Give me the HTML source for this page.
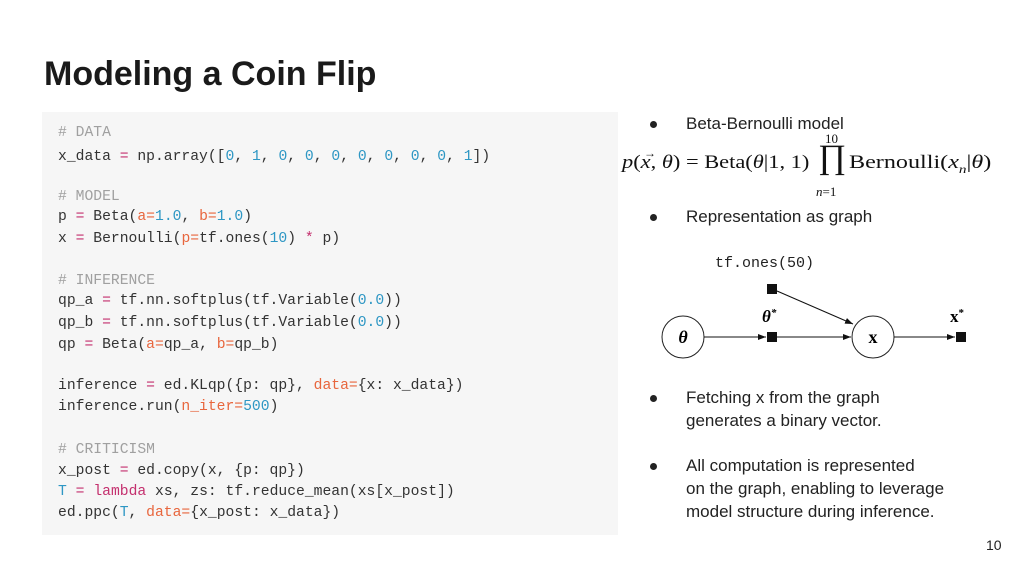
<!DOCTYPE html>
<html><head><meta charset="utf-8"><style>
body{margin:0;width:1024px;height:576px;background:#fff;position:relative;overflow:hidden;font-family:"Liberation Sans",sans-serif;color:#222}
.a{position:absolute;white-space:pre}
#code{position:absolute;left:42px;top:112px;width:576px;height:423px;background:#f6f6f6}
.c{position:absolute;left:16px;font-family:"Liberation Mono",monospace;font-size:14.7px;color:#333;white-space:pre;line-height:16px}
.cm{color:#a0a0a0}.n{color:#2e97c4}.k{color:#e8663d}.o{color:#c4306e}
.b{position:absolute;font-size:17px;color:#222;line-height:23px;white-space:pre}
.dot{position:absolute;width:7px;height:7px;border-radius:50%;background:#222}
.m{position:absolute;font-family:"Liberation Serif",serif;font-size:19px;white-space:pre;color:#111;transform-origin:0 0}
</style></head><body>
<div class="a" style="left:44px;top:55px;font-size:34px;font-weight:bold;color:#1a1a1a">Modeling a Coin Flip</div>
<div id="code">
<div class="c cm" style="top:13px"># DATA</div>
<div class="c" style="top:37px">x_data <span class="o">=</span> np.array([<span class="n">0</span>, <span class="n">1</span>, <span class="n">0</span>, <span class="n">0</span>, <span class="n">0</span>, <span class="n">0</span>, <span class="n">0</span>, <span class="n">0</span>, <span class="n">0</span>, <span class="n">1</span>])</div>
<div class="c cm" style="top:77px"># MODEL</div>
<div class="c" style="top:97px">p <span class="o">=</span> Beta(<span class="k">a=</span><span class="n">1.0</span>, <span class="k">b=</span><span class="n">1.0</span>)</div>
<div class="c" style="top:119px">x <span class="o">=</span> Bernoulli(<span class="k">p=</span>tf.ones(<span class="n">10</span>) <span class="o">*</span> p)</div>
<div class="c cm" style="top:161px"># INFERENCE</div>
<div class="c" style="top:181px">qp_a <span class="o">=</span> tf.nn.softplus(tf.Variable(<span class="n">0.0</span>))</div>
<div class="c" style="top:203px">qp_b <span class="o">=</span> tf.nn.softplus(tf.Variable(<span class="n">0.0</span>))</div>
<div class="c" style="top:225px">qp <span class="o">=</span> Beta(<span class="k">a=</span>qp_a, <span class="k">b=</span>qp_b)</div>
<div class="c" style="top:266px">inference <span class="o">=</span> ed.KLqp({p: qp}, <span class="k">data=</span>{x: x_data})</div>
<div class="c" style="top:287px">inference.run(<span class="k">n_iter=</span><span class="n">500</span>)</div>
<div class="c cm" style="top:330px"># CRITICISM</div>
<div class="c" style="top:351px">x_post <span class="o">=</span> ed.copy(x, {p: qp})</div>
<div class="c" style="top:372px"><span class="n">T</span> <span class="o">=</span> <span class="o">lambda</span> xs, zs: tf.reduce_mean(xs[x_post])</div>
<div class="c" style="top:393px">ed.ppc(<span class="n">T</span>, <span class="k">data=</span>{x_post: x_data})</div>
</div>
<div class="dot" style="left:650px;top:121px"></div><div class="b" style="left:686px;top:112px">Beta-Bernoulli model</div>
<div class="m" style="left:622px;top:152px;transform:scaleX(1.18)"><i>p</i>(<i>x</i>, <i>θ</i>) = Beta(<i>θ</i>|1, 1)</div>
<div class="m" style="left:644px;top:146px;font-size:12px">→</div>
<div class="m" style="left:818px;top:139px;font-size:34px">∏</div>
<div class="m" style="left:825px;top:131px;font-size:13px">10</div>
<div class="m" style="left:816px;top:184px;font-size:13px"><i>n</i>=1</div>
<div class="m" style="left:849px;top:152px;transform:scaleX(1.27)">Bernoulli(<i>x<sub style="font-size:12px">n</sub></i>|<i>θ</i>)</div>
<div class="dot" style="left:650px;top:214px"></div><div class="b" style="left:686px;top:205px">Representation as graph</div>
<svg style="position:absolute;left:0;top:0" width="1024" height="576">
<defs><marker id="ar" markerWidth="8" markerHeight="6" refX="8" refY="3" orient="auto"><path d="M0,0L8,3L0,6z" fill="#111"/></marker></defs>
<text x="715" y="267" font-family="Liberation Mono,monospace" font-size="15" fill="#222">tf.ones(50)</text>
<circle cx="683" cy="337" r="21" fill="#fff" stroke="#222"/>
<text x="683" y="343" text-anchor="middle" font-family="Liberation Serif,serif" font-style="italic" font-weight="bold" font-size="18">θ</text>
<circle cx="873" cy="337" r="21" fill="#fff" stroke="#222"/>
<text x="873" y="343" text-anchor="middle" font-family="Liberation Serif,serif" font-weight="bold" font-size="18">x</text>
<rect x="767" y="284" width="10" height="10" fill="#111"/>
<rect x="767" y="332" width="10" height="10" fill="#111"/>
<rect x="956" y="332" width="10" height="10" fill="#111"/>
<text x="762" y="322" font-family="Liberation Serif,serif" font-style="italic" font-weight="bold" font-size="17">θ<tspan dy="-6" font-size="11">*</tspan></text>
<text x="950" y="322" font-family="Liberation Serif,serif" font-weight="bold" font-size="17">x<tspan dy="-6" font-size="11">*</tspan></text>
<g stroke="#111" stroke-width="1" fill="none" marker-end="url(#ar)">
<line x1="704" y1="337" x2="766" y2="337"/>
<line x1="777" y1="337" x2="851" y2="337"/>
<line x1="777" y1="291" x2="853" y2="324"/>
<line x1="894" y1="337" x2="955" y2="337"/>
</g>
</svg>
<div class="dot" style="left:650px;top:395px"></div><div class="b" style="left:686px;top:386px">Fetching x from the graph
generates a binary vector.</div>
<div class="dot" style="left:650px;top:463px"></div><div class="b" style="left:686px;top:454px">All computation is represented
on the graph, enabling to leverage
model structure during inference.</div>
<div class="a" style="left:986px;top:537px;font-size:14px">10</div>
</body></html>
